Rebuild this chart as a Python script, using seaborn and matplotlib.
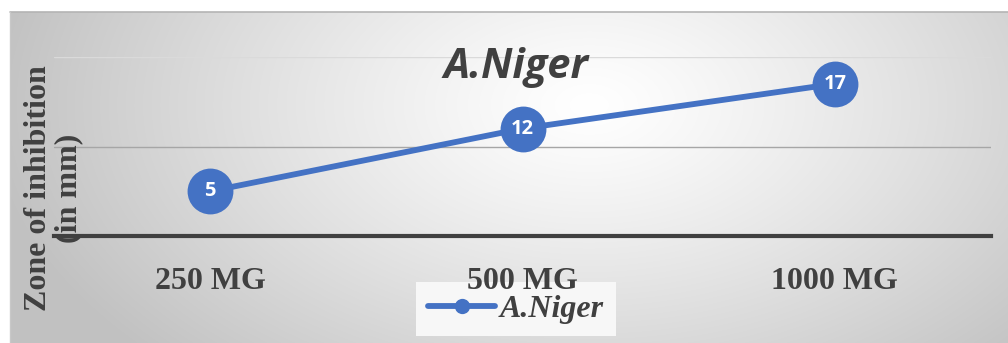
import numpy as np
import pandas as pd
import matplotlib
matplotlib.use("Agg")
import matplotlib.pyplot as plt
import seaborn as sns

# Data
doses = ["250 MG", "500 MG", "1000 MG"]
zone_mm = [5, 12, 17]
series_name = "A.Niger"
y_label = "Zone of inhibition\n(in mm)"

sns.set_theme(style="white")
plt.rcParams["font.family"] = ["DejaVu Sans"]

W, H = 1008, 343
fig = plt.figure(figsize=(W / 100, H / 100), dpi=100)
fig.patch.set_facecolor("white")

TEXT = "#404040"
BLUE = "#4472C4"

# Radial-gradient chart background
bg = fig.add_axes([10 / W, 0, 998 / W, 331 / H])
ny, nx = 331, 998
yy, xx = np.mgrid[0:ny, 0:nx]
cx, cy = 0.58 * nx, 0.28 * ny
d = np.sqrt(((xx - cx) / (0.6 * nx)) ** 2 + ((yy - cy) / (1.1 * ny)) ** 2)
d = np.clip(d, 0, 1)
val = 1.0 - 0.24 * d ** 1.2
img = np.dstack([val, val, val])
bg.imshow(img, aspect="auto", extent=[0, 1, 0, 1], origin="upper")
bg.set_xlim(0, 1)
bg.set_ylim(0, 1)
bg.axis("off")
bg.plot([0, 1], [1, 1], color="#b4b4b4", lw=1.2, transform=bg.transAxes, clip_on=False)
bg.plot([0, 0], [0, 1], color="#c8c8c8", lw=1.0, transform=bg.transAxes, clip_on=False)

# Plot area
ax = fig.add_axes([54 / W, (H - 236) / H, (991 - 54) / W, (236 - 57) / H])
ax.patch.set_alpha(0)

df = pd.DataFrame({"dose": doses, "zone": zone_mm})
sns.lineplot(data=df, x="dose", y="zone", ax=ax, color=BLUE, lw=4.2,
             marker="o", markersize=33, markeredgewidth=0,
             label=series_name, legend=False, clip_on=False, sort=False)

for i, v in enumerate(zone_mm):
    ax.text(i, v, str(v), ha="center", va="center", color="white",
            fontsize=14.5, fontweight="bold", family="Open Sans", zorder=5)

ax.set_xlim(-0.5, 2.5)
ax.set_ylim(0, 20)
ax.set_yticks([0, 10, 20])
ax.set_yticklabels([])
ax.tick_params(axis="y", length=0)
ax.grid(axis="y")
gl = ax.get_ygridlines()
gl[0].set_visible(False)
gl[1].set_color("#a6a6a6")
gl[1].set_linewidth(1.0)
gl[2].set_color("#dadada")
gl[2].set_linewidth(1.0)
ax.grid(axis="x", visible=False)

for s in ["top", "right", "left"]:
    ax.spines[s].set_visible(False)
ax.spines["bottom"].set_color(TEXT)
ax.spines["bottom"].set_linewidth(3.0)

ax.set_xlabel("")
ax.set_ylabel("")
ax.tick_params(axis="x", length=0, pad=22)
for t in ax.get_xticklabels():
    t.set_family("Liberation Serif")
    t.set_fontweight("bold")
    t.set_fontsize(23)
    t.set_color(TEXT)

# Title
fig.text(516 / W, 1 - 68 / H, series_name, ha="center", va="center",
         family="Open Sans", fontweight="bold", style="italic",
         fontsize=30, color=TEXT)

# Axis title
fig.text(54 / W, 1 - 188 / H, y_label, rotation=90, ha="center", va="center",
         multialignment="center", linespacing=1.05,
         family="Liberation Serif", fontweight="bold", fontsize=23, color=TEXT)

# Legend, kept beneath the category labels
handles, labels = ax.get_legend_handles_labels()
leg = ax.legend(handles, labels, loc="center", bbox_to_anchor=(516 / W, 1 - 309 / H),
                bbox_transform=fig.transFigure,
                frameon=True, facecolor="#f7f7f7", edgecolor="none", framealpha=1,
                fancybox=False, handlelength=2.1, handletextpad=0.15,
                borderpad=0.38, prop={"family": "Liberation Serif", "weight": "bold",
                                      "style": "italic", "size": 23})
leg.set_zorder(0.1)
for t in leg.get_texts():
    t.set_color(TEXT)
for h in leg.legend_handles:
    h.set_markersize(11)
    h.set_linewidth(4.2)

fig.savefig("out.png", dpi=100)
